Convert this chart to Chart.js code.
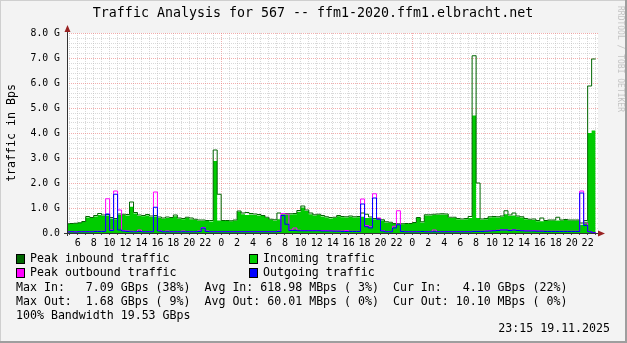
<!DOCTYPE html>
<html>
<head>
<meta charset="utf-8">
<script src="https://cdn.jsdelivr.net/npm/chart.js@4.4.1/dist/chart.umd.min.js"></script>
<style>
  html, body { margin: 0; padding: 0; background: #f3f3f3; }
  canvas { display: block; }
</style>
</head>
<body>
<canvas id="traffic" width="627" height="343"></canvas>
<script>
// samples every 30 min, first one at 04:30 of day 1 (hours relative to day 2 00:00)
const START_HOUR = -19.5;
const STEP_HOURS = 0.5;

// GBps
const incoming = [
  0.36, 0.36, 0.37, 0.38, 0.40, 0.44, 0.62, 0.60, 0.66, 0.72,
  0.68, 0.70, 0.58, 0.55, 0.72, 0.72, 0.70, 1.05, 0.78, 0.68,
  0.67, 0.70, 0.64, 0.66, 0.60, 0.57, 0.60, 0.60, 0.67, 0.57,
  0.55, 0.60, 0.55, 0.52, 0.49, 0.49, 0.48, 0.46, 2.88, 0.50,
  0.48, 0.48, 0.47, 0.50, 0.85, 0.75, 0.72, 0.74, 0.72, 0.70,
  0.68, 0.60, 0.52, 0.50, 0.55, 0.75, 0.75, 0.74, 0.75, 0.85,
  1.02, 0.88, 0.75, 0.70, 0.72, 0.66, 0.62, 0.58, 0.60, 0.67,
  0.63, 0.62, 0.65, 0.62, 0.63, 0.65, 0.60, 0.60, 0.55, 0.55,
  0.50, 0.42, 0.40, 0.36, 0.34, 0.35, 0.36, 0.36, 0.40, 0.60,
  0.42, 0.70, 0.70, 0.72, 0.73, 0.74, 0.73, 0.60, 0.60, 0.55,
  0.53, 0.55, 0.60, 4.70, 0.60, 0.53, 0.55, 0.62, 0.63, 0.62,
  0.65, 0.75, 0.68, 0.70, 0.65, 0.62, 0.55, 0.52, 0.52, 0.47,
  0.47, 0.48, 0.50, 0.50, 0.50, 0.50, 0.52, 0.50, 0.50, 0.50,
  0.33, 0.45, 4.00, 4.10
];
const peakIn = [
  0.37, 0.37, 0.38, 0.39, 0.41, 0.46, 0.66, 0.62, 0.70, 0.78,
  0.72, 0.74, 0.62, 0.58, 0.76, 0.75, 0.74, 1.24, 0.82, 0.72,
  0.70, 0.74, 0.68, 0.70, 0.64, 0.60, 0.64, 0.62, 0.72, 0.60,
  0.58, 0.63, 0.60, 0.55, 0.52, 0.52, 0.50, 0.50, 3.32, 1.55,
  0.50, 0.50, 0.49, 0.52, 0.88, 0.80, 0.82, 0.78, 0.76, 0.74,
  0.70, 0.63, 0.55, 0.53, 0.80, 0.78, 0.78, 0.77, 0.78, 0.90,
  1.08, 0.92, 0.80, 0.73, 0.75, 0.70, 0.65, 0.62, 0.63, 0.70,
  0.66, 0.65, 0.68, 0.65, 0.66, 0.80, 0.75, 0.64, 0.58, 0.58,
  0.53, 0.45, 0.43, 0.38, 0.37, 0.37, 0.38, 0.38, 0.42, 0.62,
  0.45, 0.73, 0.73, 0.75, 0.76, 0.77, 0.76, 0.63, 0.63, 0.58,
  0.56, 0.58, 0.66, 7.09, 2.00, 0.56, 0.58, 0.65, 0.66, 0.65,
  0.68, 0.89, 0.72, 0.80, 0.68, 0.65, 0.58, 0.55, 0.56, 0.50,
  0.60, 0.50, 0.52, 0.52, 0.63, 0.52, 0.54, 0.52, 0.52, 0.52,
  0.40, 0.50, 5.88, 6.96
];
const outgoing = [
  0.04, 0.04, 0.05, 0.04, 0.05, 0.05, 0.05, 0.05, 0.06, 0.06,
  0.06, 0.76, 0.10, 1.55, 0.12, 0.08, 0.06, 0.05, 0.05, 0.06,
  0.05, 0.05, 0.05, 1.03, 0.08, 0.05, 0.05, 0.05, 0.05, 0.05,
  0.05, 0.05, 0.05, 0.05, 0.06, 0.20, 0.06, 0.05, 0.05, 0.05,
  0.05, 0.05, 0.05, 0.05, 0.05, 0.05, 0.05, 0.05, 0.05, 0.05,
  0.05, 0.05, 0.05, 0.05, 0.06, 0.70, 0.35, 0.10, 0.10, 0.09,
  0.09, 0.09, 0.09, 0.09, 0.09, 0.08, 0.08, 0.08, 0.07, 0.07,
  0.06, 0.06, 0.06, 0.06, 0.06, 1.16, 0.25, 0.20, 1.40, 0.55,
  0.08, 0.05, 0.05, 0.20, 0.33, 0.06, 0.05, 0.05, 0.05, 0.05,
  0.06, 0.05, 0.05, 0.05, 0.05, 0.05, 0.05, 0.05, 0.05, 0.05,
  0.05, 0.05, 0.05, 0.06, 0.06, 0.06, 0.07, 0.08, 0.09, 0.10,
  0.12, 0.12, 0.10, 0.12, 0.10, 0.09, 0.08, 0.08, 0.08, 0.07,
  0.07, 0.06, 0.06, 0.06, 0.06, 0.06, 0.06, 0.06, 0.06, 0.06,
  1.60, 0.30, 0.05, 0.01
];
const peakOut = [
  0.05, 0.05, 0.06, 0.05, 0.06, 0.06, 0.06, 0.06, 0.07, 0.07,
  0.07, 1.37, 0.12, 1.68, 0.92, 0.10, 0.08, 0.07, 0.06, 0.12,
  0.06, 0.06, 0.06, 1.64, 0.10, 0.06, 0.08, 0.06, 0.06, 0.06,
  0.08, 0.06, 0.06, 0.06, 0.08, 0.22, 0.08, 0.06, 0.06, 0.06,
  0.06, 0.06, 0.06, 0.06, 0.06, 0.06, 0.06, 0.06, 0.06, 0.06,
  0.06, 0.06, 0.06, 0.06, 0.08, 0.78, 0.76, 0.12, 0.20, 0.11,
  0.10, 0.10, 0.10, 0.10, 0.10, 0.10, 0.10, 0.09, 0.08, 0.08,
  0.08, 0.10, 0.07, 0.07, 0.07, 1.36, 0.30, 0.25, 1.57, 0.60,
  0.10, 0.06, 0.06, 0.27, 0.89, 0.07, 0.06, 0.06, 0.06, 0.06,
  0.06, 0.06, 0.06, 0.12, 0.06, 0.06, 0.06, 0.06, 0.06, 0.06,
  0.06, 0.06, 0.06, 0.07, 0.07, 0.07, 0.08, 0.09, 0.10, 0.11,
  0.13, 0.13, 0.11, 0.13, 0.11, 0.10, 0.09, 0.09, 0.10, 0.08,
  0.08, 0.07, 0.07, 0.07, 0.07, 0.07, 0.07, 0.07, 0.07, 0.07,
  1.68, 0.40, 0.06, 0.02
];

const legendItems = [
  ['Peak inbound traffic', '#006600'], ['Incoming traffic', '#00cc00'],
  ['Peak outbound traffic', '#ff00ff'], ['Outgoing traffic', '#0000ff']
];
const statLines = [
  'Max In:   7.09 GBps (38%)  Avg In: 618.98 MBps ( 3%)  Cur In:   4.10 GBps (22%)',
  'Max Out:  1.68 GBps ( 9%)  Avg Out: 60.01 MBps ( 0%)  Cur Out: 10.10 MBps ( 0%)',
  '100% Bandwidth 19.53 GBps'
];
const titleText = 'Traffic Analysis for 567 -- ffm1-2020.ffm1.elbracht.net';
const stamp = '23:15 19.11.2025';

const MONO = '"DejaVu Sans Mono", monospace';
const MINOR_GRID = 'rgba(185,185,185,0.55)';
const MAJOR_GRID = 'rgba(235,120,120,0.6)';

function toPoints(values) {
  return values.map((v, i) => ({ x: START_HOUR + i * STEP_HOURS, y: v }));
}
const hourOfDay = h => ((h % 24) + 24) % 24;
const isWhole = v => Math.abs(v - Math.round(v)) < 1e-9;

const decor = {
  id: 'decor',
  beforeDraw(chart) {
    const { ctx, chartArea: a } = chart;
    ctx.save();
    ctx.fillStyle = '#f3f3f3';
    ctx.fillRect(0, 0, chart.width, chart.height);
    ctx.fillStyle = '#ffffff';
    ctx.fillRect(a.left, a.top, a.right - a.left, a.bottom - a.top);
    ctx.restore();
  },
  afterDraw(chart) {
    const { ctx, chartArea: a } = chart;
    ctx.save();
    // axes
    ctx.strokeStyle = '#333';
    ctx.lineWidth = 1;
    ctx.beginPath();
    ctx.moveTo(a.left + 0.5, a.bottom + 3);
    ctx.lineTo(a.left + 0.5, a.top - 4);
    ctx.moveTo(a.left - 3, a.bottom + 0.5);
    ctx.lineTo(a.right + 3, a.bottom + 0.5);
    ctx.stroke();
    ctx.fillStyle = '#992222';
    ctx.beginPath();
    ctx.moveTo(a.left + 0.5, a.top - 8);
    ctx.lineTo(a.left - 2.5, a.top - 1);
    ctx.lineTo(a.left + 3.5, a.top - 1);
    ctx.fill();
    ctx.beginPath();
    ctx.moveTo(a.right + 7, a.bottom + 0.5);
    ctx.lineTo(a.right, a.bottom - 2.5);
    ctx.lineTo(a.right, a.bottom + 3.5);
    ctx.fill();

    // title
    ctx.fillStyle = '#000';
    ctx.textBaseline = 'middle';
    ctx.font = '13.3px ' + MONO;
    ctx.textAlign = 'center';
    ctx.fillText(titleText, 313, 14);

    // y axis title
    ctx.font = '11.6px ' + MONO;
    ctx.save();
    ctx.translate(12, 133);
    ctx.rotate(-Math.PI / 2);
    ctx.fillText('traffic in Bps', 0, 0);
    ctx.restore();

    // watermark
    ctx.save();
    ctx.fillStyle = '#c4c4c4';
    ctx.font = '8px ' + MONO;
    ctx.translate(620, 59);
    ctx.rotate(Math.PI / 2);
    ctx.fillText('RRDTOOL / TOBI OETIKER', 0, 0);
    ctx.restore();

    // legend
    ctx.textAlign = 'left';
    ctx.font = '11.6px ' + MONO;
    legendItems.forEach(([label, color], i) => {
      const col = i % 2, row = Math.floor(i / 2);
      const x = col === 0 ? 16 : 249;
      const y = 259 + row * 14;
      ctx.fillStyle = color;
      ctx.fillRect(x, y - 4, 8, 8);
      ctx.strokeStyle = '#000';
      ctx.strokeRect(x + 0.5, y - 4.5, 8, 9);
      ctx.fillStyle = '#000';
      ctx.fillText(label, x + 14, y);
    });
    statLines.forEach((line, i) => ctx.fillText(line, 16, 288 + i * 14));
    ctx.textAlign = 'right';
    ctx.fillText(stamp, 610, 329);

    // frame shade
    ctx.fillStyle = '#cfcfcf';
    ctx.fillRect(0, 0, chart.width, 1);
    ctx.fillRect(0, 0, 1, chart.height);
    ctx.fillStyle = '#9e9e9e';
    ctx.fillRect(chart.width - 2, 0, 2, chart.height);
    ctx.fillRect(0, chart.height - 2, chart.width, 2);
    ctx.restore();
  }
};

const line = (label, values, color, order) => ({
  label, data: toPoints(values), borderColor: color, borderWidth: 1,
  stepped: 'after', pointRadius: 0, fill: false, order
});

new Chart(document.getElementById('traffic'), {
  type: 'line',
  data: {
    datasets: [
      line('Outgoing traffic', outgoing, '#0000ff', 1),
      line('Peak outbound traffic', peakOut, '#ff00ff', 2),
      line('Peak inbound traffic', peakIn, '#006600', 3),
      {
        label: 'Incoming traffic', data: toPoints(incoming), borderWidth: 0,
        borderColor: '#00cc00', backgroundColor: '#00cc00', fill: 'origin',
        stepped: 'after', pointRadius: 0, order: 4
      }
    ]
  },
  options: {
    responsive: false,
    animation: false,
    events: [],
    layout: { padding: { top: 33, right: 29, bottom: 90, left: 0 } },
    plugins: { legend: { display: false }, tooltip: { enabled: false } },
    scales: {
      x: {
        type: 'linear',
        min: -19.35,
        max: 47.3,
        afterFit: s => { s.height = 20; },
        border: { display: false, dash: [1, 1] },
        grid: {
          color: c => hourOfDay(c.tick.value) === 0 ? MAJOR_GRID : MINOR_GRID,
          tickColor: '#555',
          tickLength: 2
        },
        ticks: {
          stepSize: 1,
          includeBounds: false,
          autoSkip: false,
          maxRotation: 0,
          minRotation: 0,
          padding: 2,
          color: '#000',
          font: { family: MONO, size: 10 },
          callback: v => (v % 2 === 0 ? String(hourOfDay(v)) : '')
        }
      },
      y: {
        min: 0,
        max: 8,
        afterFit: s => { s.width = 67; },
        border: { display: false, dash: [1, 1] },
        grid: {
          color: c => isWhole(c.tick.value) ? MAJOR_GRID : MINOR_GRID,
          drawTicks: false
        },
        ticks: {
          stepSize: 0.2,
          maxTicksLimit: 1000,
          autoSkip: false,
          padding: 7,
          color: '#000',
          font: { family: MONO, size: 9.8 },
          callback: v => (isWhole(v) ? (v === 0 ? '0.0' : v.toFixed(1) + ' G') : '')
        }
      }
    }
  },
  plugins: [decor]
});
</script>
</body>
</html>
